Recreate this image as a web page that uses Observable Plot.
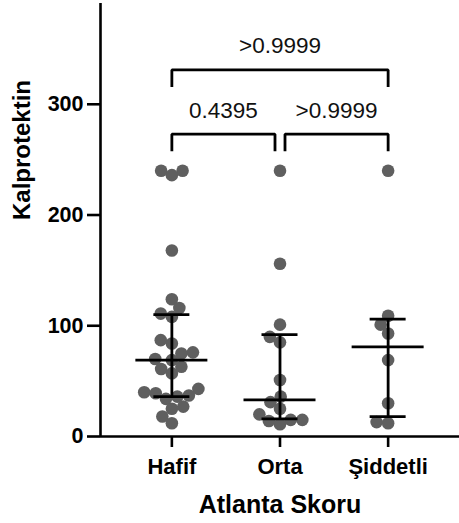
<!DOCTYPE html>
<html>
<head>
<meta charset="utf-8">
<script src="https://cdn.jsdelivr.net/npm/d3@7"></script>
<script src="https://cdn.jsdelivr.net/npm/@observablehq/plot@0.6"></script>
<style>
  body { margin: 0; background: #fff; }
</style>
</head>
<body>
<div id="chart"></div>
<script>
// ---- data ----
const categories = ["Hafif", "Orta", "Şiddetli"];
const hafif = [240, 240, 236, 168, 124, 116, 111, 108, 87, 84, 76, 75, 70, 69, 63, 61, 57, 43, 40, 39, 37, 36, 34, 27, 25, 18, 12];
const orta = [240, 156, 101, 90, 85, 51, 36, 31, 25, 20, 15, 15, 14, 11];
const siddetli = [240, 109, 101, 93, 69, 30, 13, 12];
const medians = [69, 33, 81];
const q1s = [36, 16, 18];
const q3s = [110, 92, 106];
const yTicks = [0, 100, 200, 300];
const cmpFrom = [0, 1, 0];
const cmpTo = [1, 2, 2];
const cmpY = [273, 273, 331];
const cmpLabels = ["0.4395", ">0.9999", ">0.9999"];

// ---- layout ----
const W = 459, H = 523;
const mL = 100, mR = 0, mT = 3, mB = 87;
const yMax = 391;
const pad = 0.66;
const xDomain = [-pad, categories.length - 1 + pad];
const kX = (W - mL - mR) / (xDomain[1] - xDomain[0]);
const kY = (H - mT - mB) / yMax;
const R = 6.3;
const D = 11.6; // collision distance in px

// beeswarm layout (pixel-space greedy)
function swarm(values) {
  const sorted = values.map((v, j) => ({v, j})).sort((a, b) => a.v - b.v);
  const placed = [];
  const out = new Array(values.length);
  for (const p of sorted) {
    const py = p.v * kY;
    const intervals = [];
    for (const q of placed) {
      const dy = Math.abs(q.py - py);
      if (dy < D) {
        const w = Math.sqrt(D * D - dy * dy);
        intervals.push([q.px - w, q.px + w]);
      }
    }
    const cands = [0];
    for (const [a, b] of intervals) { cands.push(a, b); }
    cands.sort((a, b) => Math.abs(a) - Math.abs(b) || a - b);
    let px = 0;
    for (const c of cands) {
      if (intervals.every(([a, b]) => c <= a + 1e-6 || c >= b - 1e-6)) { px = c; break; }
    }
    placed.push({px, py});
    out[p.j] = px;
  }
  return out;
}

const groups = [hafif, orta, siddetli];
const points = [];
groups.forEach((vals, i) => {
  const offs = swarm(vals);
  vals.forEach((v, j) => points.push({i, v, x: i + offs[j] / kX}));
});

const summary = categories.map((c, i) => ({i, med: medians[i], q1: q1s[i], q3: q3s[i]}));

const gap = 5 / kX;
const legLen = 17 / kY;
const brackets = cmpFrom.map((a, k) => {
  const b = cmpTo[k];
  const y = cmpY[k];
  const startsAtOtherEnd = cmpTo.some((t, m) => m !== k && cmpY[m] === y && t === a);
  const endsAtOtherStart = cmpFrom.some((f, m) => m !== k && cmpY[m] === y && f === b);
  const x1 = a + (startsAtOtherEnd ? gap : 0);
  const x2 = b - (endsAtOtherStart ? gap : 0);
  return {x1, x2, y, yLeg: y - legLen, label: cmpLabels[k], xm: (x1 + x2) / 2};
});
const bracketPaths = brackets.map(b => [
  {x: b.x1, y: b.yLeg}, {x: b.x1, y: b.y}, {x: b.x2, y: b.y}, {x: b.x2, y: b.yLeg}
]);

const font = "Liberation Sans, Arial, Helvetica, sans-serif";

const chart = Plot.plot({
  width: W,
  height: H,
  marginLeft: mL,
  marginRight: mR,
  marginTop: mT,
  marginBottom: mB,
  style: {fontFamily: font, background: "#fff", color: "#000"},
  x: {type: "linear", domain: xDomain},
  y: {domain: [0, yMax]},
  marks: [
    Plot.axisY({ticks: yTicks, tickSize: 13, tickPadding: 4, strokeWidth: 2.6, fontSize: 21.5, fontWeight: "bold", label: null, tickFormat: d => String(d)}),
    Plot.axisX({ticks: [0, 1, 2], tickSize: 11, tickPadding: 11, strokeWidth: 2.6, fontSize: 22, fontWeight: "bold", label: null, tickFormat: i => categories[i]}),
    Plot.ruleX([xDomain[0]], {stroke: "#000", strokeWidth: 2.6}),
    Plot.ruleY([0], {stroke: "#000", strokeWidth: 2.6}),
    Plot.dot(points, {x: "x", y: "v", r: R, fill: "#5f5f5f", stroke: "none"}),
    // median line
    Plot.ruleY(summary, {y: "med", x1: d => d.i - 36 / kX, x2: d => d.i + 36 / kX, stroke: "#000", strokeWidth: 2.8}),
    // IQR whisker
    Plot.ruleX(summary, {x: "i", y1: "q1", y2: "q3", stroke: "#000", strokeWidth: 2.8}),
    Plot.ruleY(summary, {y: "q1", x1: d => d.i - 18 / kX, x2: d => d.i + 18 / kX, stroke: "#000", strokeWidth: 2.8}),
    Plot.ruleY(summary, {y: "q3", x1: d => d.i - 18 / kX, x2: d => d.i + 18 / kX, stroke: "#000", strokeWidth: 2.8}),
    // significance brackets
    ...bracketPaths.map(p => Plot.line(p, {x: "x", y: "y", stroke: "#000", strokeWidth: 2.8, strokeLinejoin: "miter", strokeLinecap: "butt"})),
    Plot.text(brackets, {x: "xm", y: d => d.y + 21.5, text: "label", fontSize: 22.5, fontWeight: "normal", fill: "#111", lineAnchor: "middle"}),
    // axis titles
    Plot.text(["Kalprotektin"], {frameAnchor: "left", rotate: -90, dx: -71, lineAnchor: "bottom", fontSize: 24, fontWeight: "bold", text: d => d}),
    Plot.text(["Atlanta Skoru"], {frameAnchor: "bottom", dy: 76, lineAnchor: "bottom", fontSize: 25, fontWeight: "bold", text: d => d})
  ]
});
document.getElementById("chart").appendChild(chart);
</script>
</body>
</html>
